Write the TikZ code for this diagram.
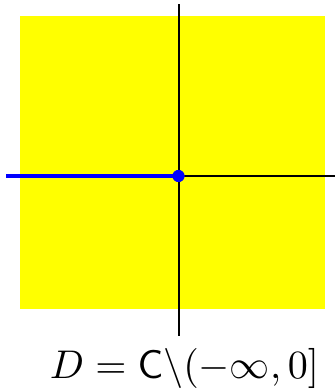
\documentclass[tikz,border=0pt]{standalone}
\definecolor{yel}{RGB}{255,255,0}
\definecolor{blu}{RGB}{0,0,255}
\begin{document}
\begin{tikzpicture}[x=1pt,y=1pt,
  axis/.style={black,line width=2pt},
  cut/.style={blu,line width=4pt},
  dotstyle/.style={circle,fill=blu,inner sep=0pt,minimum size=12pt}]
\useasboundingbox (0,0) rectangle (335,392);
\fill[yel] (19.5,83) rectangle (325,376);
\coordinate (L) at (6,216);
\coordinate (R) at (335,216);
\coordinate (T) at (178.5,388);
\coordinate (B) at (178.5,56);
\draw[axis] (L) -- (R);
\draw[axis] (B) -- (T);
\node[dotstyle] (O) at (178.5,216) {};
\draw[cut] (L) -- (O.center);
\node[dotstyle] at (O) {};
\node[anchor=base,inner sep=0pt] (lab) at (184.5,13) {\resizebox{269pt}{!}{$D=\mathsf{C}\backslash(-\infty,0]$}};
\end{tikzpicture}
\end{document}
